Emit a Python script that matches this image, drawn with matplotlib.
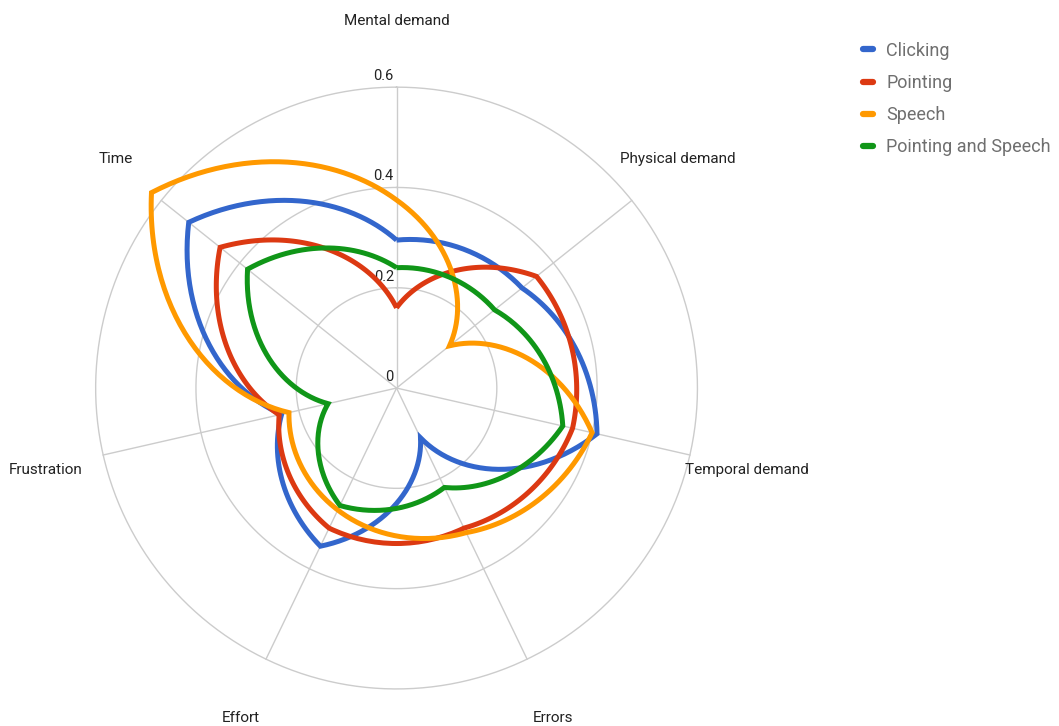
import numpy as np
import matplotlib.pyplot as plt
from matplotlib.path import Path
from matplotlib.patches import PathPatch

categories = ["Mental demand", "Physical demand", "Temporal demand", "Errors",
              "Effort", "Frustration", "Time"]
clicking = [0.295, 0.32, 0.41, 0.11, 0.35, 0.235, 0.53]
pointing = [0.16, 0.357, 0.36, 0.31, 0.31, 0.24, 0.45]
speech = [0.375, 0.135, 0.40, 0.32, 0.27, 0.22, 0.625]
pointing_speech = [0.24, 0.25, 0.34, 0.22, 0.26, 0.14, 0.38]
series_names = ["Clicking", "Pointing", "Speech", "Pointing and Speech"]
ring_values = [0, 0.2, 0.4, 0.6]
ring_labels = ["0", "0.2", "0.4", "0.6"]

colors = ["#3366cc", "#dc3912", "#ff9900", "#109618"]
grid_color = "#cccccc"

plt.rcParams['font.family'] = ['Roboto', 'DejaVu Sans']

fig = plt.figure(figsize=(10.59, 7.26), dpi=100)
ax = fig.add_axes([0.0666, 0.0165, 0.6157, 0.898], projection='polar')
ax.set_theta_zero_location('N')
ax.set_theta_direction(-1)
ax.set_ylim(0, 0.65)
ax.grid(False)
ax.set_xticks([])
ax.set_yticks([])
ax.spines['polar'].set_visible(False)

n = len(categories)
angles = np.arange(n) * 2 * np.pi / n

# rings and spokes
circ = np.linspace(0, 2 * np.pi, 400)
for rv in ring_values[1:]:
    ax.plot(circ, np.full_like(circ, rv), color=grid_color, lw=1, zorder=1)
for a in angles:
    ax.plot([a, a], [0, ring_values[-1]], color=grid_color, lw=1, zorder=1)

# ring labels along the top spoke
for rv, lab in zip(ring_values, ring_labels):
    ax.annotate(lab, xy=(0, rv), xytext=(-2, 3), textcoords='offset points',
                ha='right', va='bottom', fontsize=10.5, color='#222222')

# category labels, nudged up/down so top and bottom ones clear the rings
for a, name in zip(angles, categories):
    ax.annotate(name, xy=(a, 0.717), xytext=(0, 7 * np.cos(a)),
                textcoords='offset pixels', ha='center', va='center',
                fontsize=11, color='#222222', annotation_clip=False)

# series: edges interpolated in (theta, r) so they bend like the polar grid
handles = []
for vals, col, name in zip([clicking, pointing, speech, pointing_speech],
                           colors, series_names):
    verts = np.column_stack([np.append(angles, 2 * np.pi), np.append(vals, vals[0])])
    path = Path(verts, _interpolation_steps=60)
    patch = PathPatch(path, fill=False, edgecolor=col, lw=3.6,
                      joinstyle='miter', transform=ax.transData, zorder=3,
                      clip_on=False)
    ax.add_patch(patch)
    handles.append(plt.Line2D([], [], color=col, lw=4.5, solid_capstyle='round'))

fig.legend(handles, series_names, loc='upper left', bbox_to_anchor=(0.8, 0.965),
           frameon=False, handlelength=0.55, handletextpad=0.72, labelspacing=0.79,
           fontsize=13, labelcolor='#6f6f6f')

fig.savefig("out.png", dpi=100)
